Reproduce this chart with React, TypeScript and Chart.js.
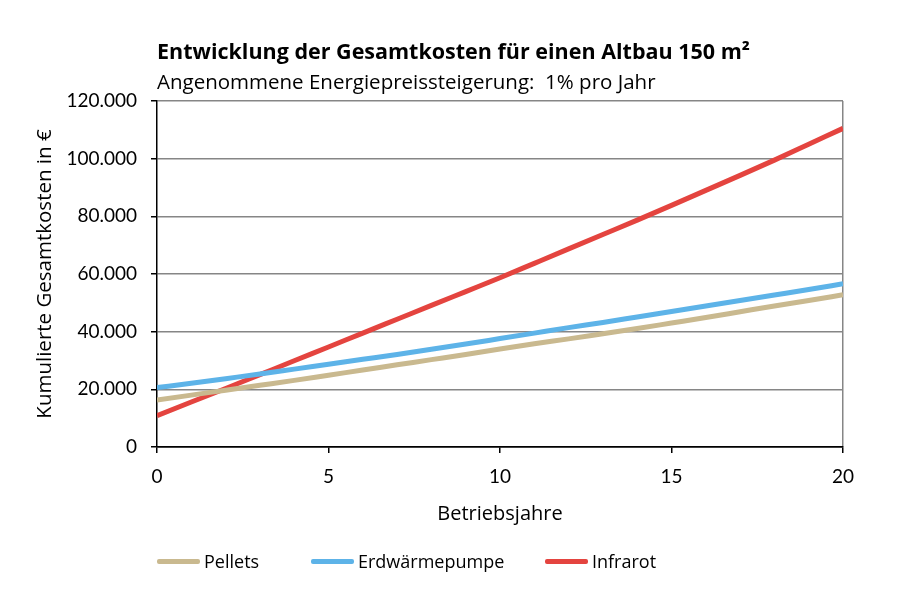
import { useEffect, useRef } from 'react';
import { Chart, registerables } from 'chart.js';

Chart.register(...registerables);

const TEXT_FONT = 'Open Sans';
const TICK_FONT = 'Lato';

const chartTitle = 'Entwicklung der Gesamtkosten für einen Altbau 150 m²';
const chartSubtitle = 'Angenommene Energiepreissteigerung:  1% pro Jahr';
const xAxisTitle = 'Betriebsjahre';
const yAxisTitle = 'Kumulierte Gesamtkosten in €';

const years = [0, 1, 2, 3, 4, 5, 6, 7, 8, 9, 10, 11, 12, 13, 14, 15, 16, 17, 18, 19, 20];
const xTicks = [0, 5, 10, 15, 20];
const yTicks = [0, 20000, 40000, 60000, 80000, 100000, 120000];

const seriesNames = ['Pellets', 'Erdwärmepumpe', 'Infrarot'];
const seriesColors = ['#C9B98F', '#5DB3E8', '#E4443F'];

// cumulative costs in EUR, one value per year
const pellets = [16300, 18000, 19700, 21400, 23100, 24900, 26700, 28500, 30300, 32100, 34000, 35800, 37500, 39300, 41100, 43000, 44900, 46900, 48900, 50800, 52800];
const erdwaerme = [20600, 22100, 23700, 25300, 27000, 28700, 30400, 32100, 33900, 35700, 37600, 39500, 41400, 43200, 45100, 47000, 48900, 50800, 52700, 54600, 56600];
const infrarot = [10900, 15600, 20300, 25100, 29900, 34700, 39500, 44300, 49100, 53900, 58700, 63700, 68700, 73700, 78700, 83800, 89000, 94200, 99500, 105000, 110500];

const seriesValues = [pellets, erdwaerme, infrarot];

const legendLeft = [157, 311, 545];

function CostChart() {
  const canvasRef = useRef<HTMLCanvasElement>(null);

  useEffect(() => {
    if (!canvasRef.current) return;

    const chart = new Chart(canvasRef.current, {
      type: 'line',
      data: {
        datasets: seriesNames.map((name, i) => ({
          label: name,
          data: years.map((yr, k) => ({ x: yr, y: seriesValues[i][k] })),
          borderColor: seriesColors[i],
          backgroundColor: seriesColors[i],
          borderWidth: 5,
          pointRadius: 0,
          tension: 0.3,
          cubicInterpolationMode: 'monotone' as const,
        })),
      },
      options: {
        animation: false,
        responsive: true,
        maintainAspectRatio: false,
        layout: { padding: { left: 0, right: 57, top: 0, bottom: 0 } },
        plugins: {
          legend: { display: false },
          tooltip: { enabled: false },
          title: {
            display: true,
            text: chartTitle,
            align: 'start',
            fullSize: false,
            color: '#000',
            font: { family: TEXT_FONT, size: 21.5, weight: 'bold' },
            padding: { top: 40, bottom: 5 },
          },
          subtitle: {
            display: true,
            text: chartSubtitle,
            align: 'start',
            fullSize: false,
            color: '#000',
            font: { family: TEXT_FONT, size: 20.5 },
            padding: { top: 0, bottom: 5.6 },
          },
        },
        scales: {
          x: {
            type: 'linear',
            min: 0,
            max: 20,
            afterBuildTicks: (scale) => {
              scale.ticks = xTicks.map((v) => ({ value: v }));
            },
            afterFit: (scale) => {
              scale.height = 153;
            },
            ticks: {
              color: '#000',
              padding: 12,
              maxRotation: 0,
              font: { family: TICK_FONT, size: 19 },
            },
            grid: {
              color: (ctx) => (ctx.tick && ctx.tick.value === 20 ? '#868686' : 'rgba(0,0,0,0)'),
              tickColor: '#000',
              lineWidth: 1.5,
              tickLength: 6,
            },
            border: { color: '#000', width: 1.5 },
            title: {
              display: true,
              text: xAxisTitle,
              color: '#000',
              font: { family: TEXT_FONT, size: 20 },
              padding: { top: 0, bottom: 74 },
            },
          },
          y: {
            min: 0,
            max: 120000,
            afterBuildTicks: (scale) => {
              scale.ticks = yTicks.map((v) => ({ value: v }));
            },
            afterFit: (scale) => {
              scale.width = 157;
            },
            ticks: {
              color: '#000',
              padding: 14,
              font: { family: TICK_FONT, size: 19 },
              callback: (v) => Number(v).toLocaleString('de-DE'),
            },
            grid: {
              color: (ctx) => (ctx.tick && ctx.tick.value === 0 ? '#000' : '#868686'),
              tickColor: '#000',
              lineWidth: 1.5,
              tickLength: 6,
            },
            border: { color: '#000', width: 1.5 },
            title: {
              display: true,
              text: yAxisTitle,
              color: '#000',
              font: { family: TEXT_FONT, size: 20.5 },
              padding: { top: 32.7, bottom: 0 },
            },
          },
        },
      },
    });

    return () => {
      chart.destroy();
    };
  }, []);

  return (
    <div style={{ position: 'absolute', left: 0, top: 0, width: 900, height: 600, background: '#fff' }}>
      <canvas ref={canvasRef} />
      {seriesNames.map((name, i) => (
        <div
          key={name}
          style={{
            position: 'absolute',
            left: legendLeft[i],
            top: 549,
            height: 24,
            display: 'flex',
            alignItems: 'center',
            fontFamily: TEXT_FONT,
            fontSize: 18,
            color: '#000',
            whiteSpace: 'nowrap',
          }}
        >
          <span style={{ display: 'inline-block', width: 43, height: 5, borderRadius: 2, background: seriesColors[i], marginRight: 4 }} />
          {name}
        </div>
      ))}
    </div>
  );
}

export default function App() {
  return <CostChart />;
}
